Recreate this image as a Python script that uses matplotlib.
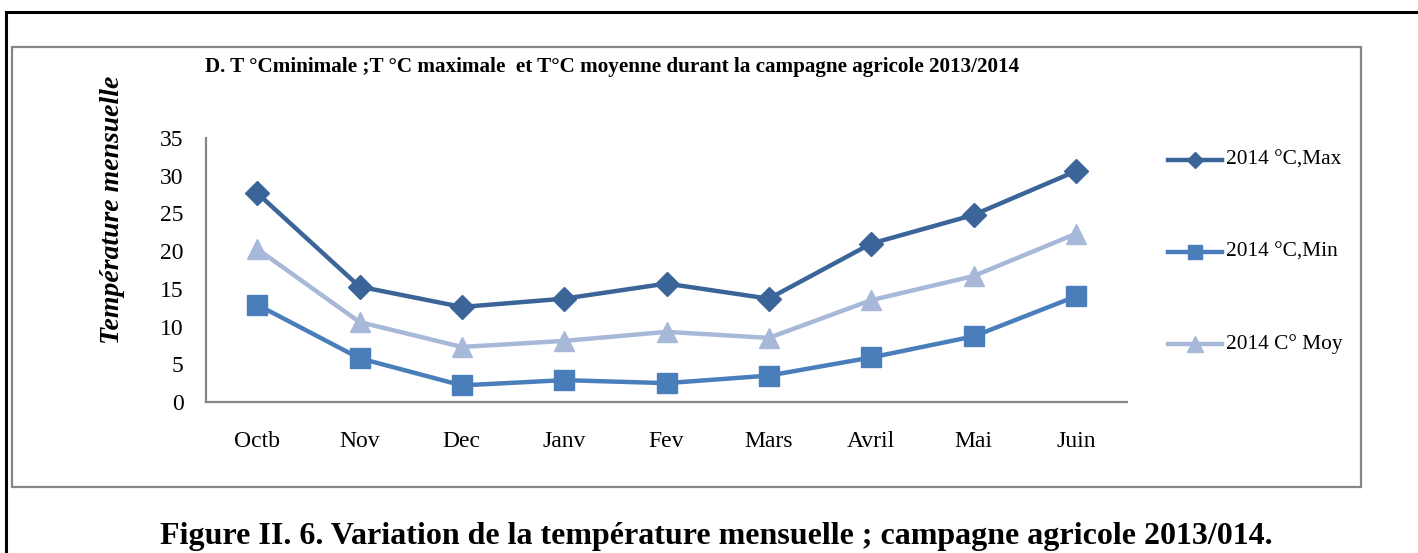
import matplotlib
matplotlib.use("Agg")
import matplotlib.pyplot as plt
from matplotlib.patches import Rectangle
from matplotlib.lines import Line2D

# monthly temperatures, campaign 2013/2014
mois = ["Octb", "Nov", "Dec", "Janv", "Fev", "Mars", "Avril", "Mai", "Juin"]
t_max = [27.7, 15.3, 12.6, 13.7, 15.7, 13.7, 21.0, 24.8, 30.6]
t_min = [12.9, 5.8, 2.2, 2.9, 2.5, 3.5, 5.9, 8.7, 14.0]
t_moy = [20.3, 10.6, 7.3, 8.1, 9.3, 8.5, 13.5, 16.7, 22.3]
noms = ["2014 °C,Max", "2014 °C,Min", "2014 C° Moy"]
yticks = [0, 5, 10, 15, 20, 25, 30, 35]

W, H = 1418, 553
SERIF = ["Liberation Serif", "DejaVu Serif"]
plt.rcParams["font.family"] = SERIF

fig = plt.figure(figsize=(W / 100, H / 100), dpi=100)


def px(x0, y0, x1, y1):
    """pixel box (top-left origin) -> figure fraction rect"""
    return [x0 / W, 1 - y1 / H, (x1 - x0) / W, (y1 - y0) / H]


# outer black frame (runs off right/bottom edges) and gray chart box
fig.add_artist(Rectangle((6 / W, -0.2), 1.2, 1.2 - 12 / H, transform=fig.transFigure,
                         fill=False, ec="black", lw=2.2))
fig.add_artist(Rectangle((12 / W, 1 - 487 / H), (1361 - 12) / W, (487 - 47) / H,
                         transform=fig.transFigure, fill=False, ec="#868686", lw=1.6))

ax = fig.add_axes(px(206, 138, 1127, 402))
x = list(range(len(mois)))
c_max, c_min, c_moy = "#3B6598", "#4A7EBB", "#A7B8D8"
ax.plot(x, t_max, color=c_max, lw=3.2, marker="D", ms=12, label=noms[0])
ax.plot(x, t_min, color=c_min, lw=3.2, marker="s", ms=14, label=noms[1])
ax.plot(x, t_moy, color=c_moy, lw=3.2, marker="^", ms=14, label=noms[2])

ax.set_xlim(-0.5, len(mois) - 0.5)
ax.set_ylim(0, 35)
ax.set_yticks(yticks)
ax.set_xticks(x)
ax.set_xticklabels(mois)
ax.tick_params(axis="both", length=0, labelsize=17)
ax.tick_params(axis="x", pad=21)
ax.tick_params(axis="y", pad=16)
for s in ["top", "right"]:
    ax.spines[s].set_visible(False)
for s in ["left", "bottom"]:
    ax.spines[s].set_color("#868686")
    ax.spines[s].set_linewidth(1.6)

fig.text(205 / W, 1 - 72 / H,
         "D. T °Cminimale ;T °C maximale  et T°C moyenne durant la campagne agricole 2013/2014",
         fontsize=15.2, fontweight="bold", va="baseline", ha="left")
fig.text(113 / W, 1 - 210 / H, "Température mensuelle", rotation=90, fontsize=20,
         fontweight="bold", style="italic", va="center", ha="center")

# legend entries, spaced as in the original
for i, (nom, c, m, ms) in enumerate(zip(noms, [c_max, c_min, c_moy], ["D", "s", "^"], [8, 10, 11])):
    yy = 1 - (160 + 92 * i) / H
    fig.add_artist(Line2D([1168 / W, 1222 / W], [yy, yy], transform=fig.transFigure,
                          color=c, lw=3.2))
    fig.add_artist(Line2D([1195 / W], [yy], transform=fig.transFigure, color=c,
                          marker=m, ms=ms, lw=0))
    fig.text(1226 / W, yy, nom, fontsize=15.4, va="center", ha="left")

fig.text(716 / W, 1 - 544 / H,
         "Figure II. 6. Variation de la température mensuelle ; campagne agricole 2013/014.",
         fontsize=23, fontweight="bold", va="baseline", ha="center")

fig.savefig("out.png", dpi=100)
